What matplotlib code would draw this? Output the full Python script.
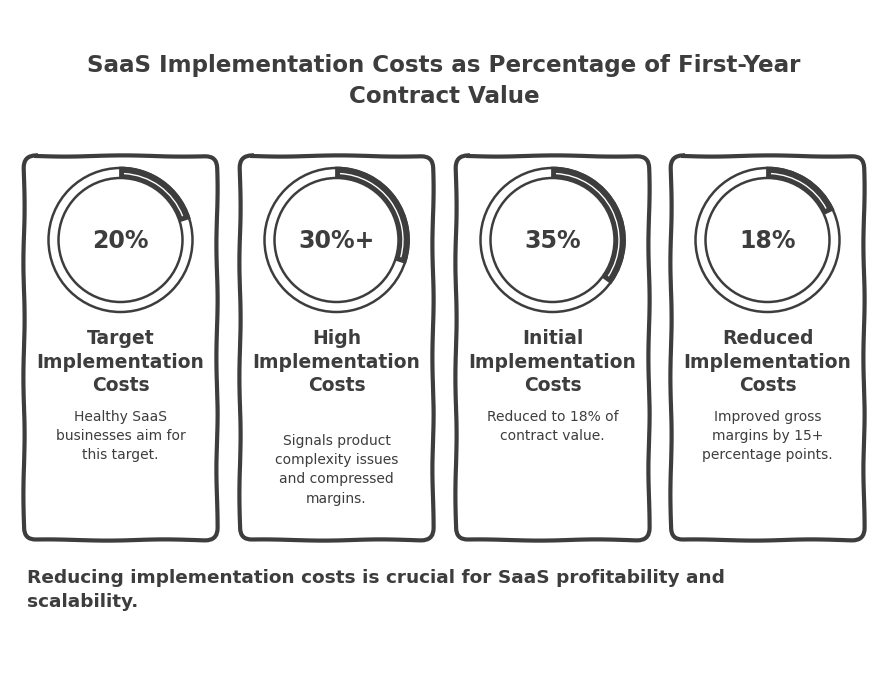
import matplotlib
matplotlib.use("Agg")
import matplotlib.pyplot as plt
from matplotlib.patches import FancyBboxPatch, Circle, Wedge, Arc

plt.rcParams['font.family'] = ['DejaVu Sans']

# ---- data ----
values = [20, 30, 35, 18]
value_labels = ["20%", "30%+", "35%", "18%"]
card_titles = [
    "Target\nImplementation\nCosts",
    "High\nImplementation\nCosts",
    "Initial\nImplementation\nCosts",
    "Reduced\nImplementation\nCosts",
]
card_descriptions = [
    "Healthy SaaS\nbusinesses aim for\nthis target.",
    "Signals product\ncomplexity issues\nand compressed\nmargins.",
    "Reduced to 18% of\ncontract value.",
    "Improved gross\nmargins by 15+\npercentage points.",
]
title = "SaaS Implementation Costs as Percentage of First-Year\nContract Value"
footer = "Reducing implementation costs is crucial for SaaS profitability and\nscalability."

# ---- layout ----
INK = "#3d3d3d"
W, H = 888, 696
fig = plt.figure(figsize=(W / 100, H / 100), dpi=100)
ax = fig.add_axes([0, 0, 1, 1])
ax.set_xlim(0, W)
ax.set_ylim(H, 0)
ax.axis("off")

box_sketch = (0.6, 120, 1.5)

ax.text(W / 2, 81, title, ha="center", va="center", fontsize=16.6, fontweight="bold",
        color=INK, linespacing=1.41)

card_left = [24, 240, 456, 671]
card_w = 193
card_top, card_bot = 156, 540
desc_top = [418, 442, 418, 418]

for i in range(4):
    x0 = card_left[i]
    box = FancyBboxPatch((x0, card_top), card_w, card_bot - card_top,
                         boxstyle="round,pad=0,rounding_size=12",
                         facecolor="white", edgecolor=INK, linewidth=3)
    box.set_sketch_params(*box_sketch)
    ax.add_patch(box)

    cx, cy = x0 + card_w / 2, 240
    for r in (72, 62):
        c = Circle((cx, cy), r, fill=False, edgecolor=INK, linewidth=1.8)
        ax.add_patch(c)
    # arc going clockwise from 12 o'clock (y axis inverted -> angles flip)
    a0 = -90
    a1 = -90 + values[i] * 3.6
    wd = Wedge((cx, cy), 72, a0, a1, width=8, facecolor=INK, edgecolor=INK, linewidth=2)
    ax.add_patch(wd)
    inner = Arc((cx, cy), 2 * 66.5, 2 * 66.5, theta1=a0 + 3, theta2=a1 - 3,
                color="white", linewidth=1.0)
    ax.add_patch(inner)

    ax.text(cx, cy + 1, value_labels[i], ha="center", va="center", fontsize=17,
            fontweight="bold", color=INK)
    ax.text(cx, 362, card_titles[i], ha="center", va="center", fontsize=13.5,
            fontweight="bold", color=INK, linespacing=1.29)
    ax.text(cx, desc_top[i] - 8, card_descriptions[i], ha="center", va="top",
            fontsize=10, color=INK, linespacing=1.47)

ax.text(27, 590, footer, ha="left", va="center", fontsize=13.3, fontweight="bold",
        color=INK, linespacing=1.36)

fig.savefig("out.png", dpi=100, facecolor="white")
